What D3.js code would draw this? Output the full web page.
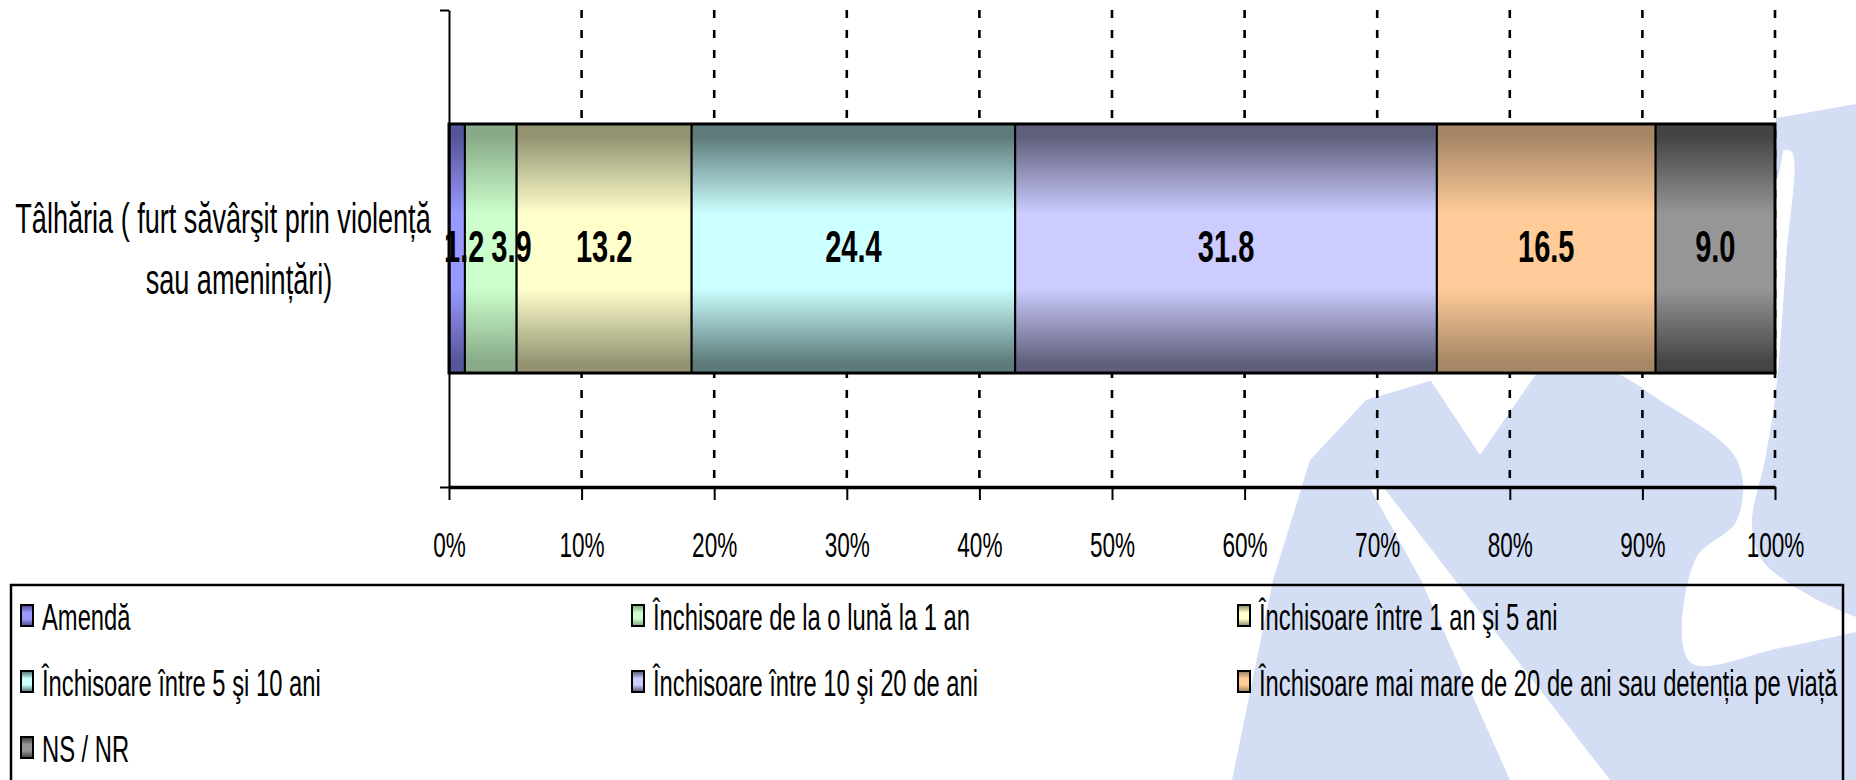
<!DOCTYPE html>
<html><head><meta charset="utf-8">
<script src="https://cdn.jsdelivr.net/npm/d3@7"></script>
<style>body{margin:0;background:#fff;} svg{display:block;}</style>
</head><body>
<svg id="chart" width="1856" height="780"></svg>
<script>
// ---- data ----
const categories = ["Tâlhăria ( furt săvârşit prin violență sau amenințări)"];
const categoryLines = ["Tâlhăria ( furt săvârşit prin violență", "sau amenințări)"];
const seriesNames = [
  "Amendă",
  "Închisoare de la o lună la 1 an",
  "Închisoare între 1 an şi 5 ani",
  "Închisoare între 5 şi 10 ani",
  "Închisoare între 10 şi 20 de ani",
  "Închisoare mai mare de 20 de ani sau detenția pe viață",
  "NS / NR"
];
const seriesValues = [1.2, 3.9, 13.2, 24.4, 31.8, 16.5, 9.0];
const tickValues = [0, 10, 20, 30, 40, 50, 60, 70, 80, 90, 100];
const tickLabels = ["0%", "10%", "20%", "30%", "40%", "50%", "60%", "70%", "80%", "90%", "100%"];

// ---- styles ----
const lightColors = ["#9999FF", "#CCFFCC", "#FFFFCC", "#CCFFFF", "#CCCCFF", "#FFCC99", "#969696"];
const darkColors  = ["#555599", "#88AA88", "#949473", "#5E7B7B", "#5F5F7C", "#A68666", "#444444"];
const SX = 0.645;               // horizontal condensation of all text
const FONT = "'Liberation Sans', Arial, sans-serif";
const logoColor = "#D3DEF5";

const svg = d3.select("#chart");
const plot = {left: 449, right: 1775, top: 10, bottom: 487};

const x = d3.scaleLinear().domain([0, 100]).range([plot.left, plot.right]);
const y = d3.scaleBand().domain(categories).range([plot.top, plot.bottom]).padding(0.314);

// ---- gradients ----
const defs = svg.append("defs");
lightColors.forEach((c, i) => {
  const g = defs.append("linearGradient").attr("id", "g" + i)
    .attr("x1", 0).attr("y1", 0).attr("x2", 0).attr("y2", 1);
  [[0, darkColors[i]], [0.05, darkColors[i]], [0.36, c], [0.66, c], [0.96, darkColors[i]], [1, darkColors[i]]]
    .forEach(([o, col]) => g.append("stop").attr("offset", o).attr("stop-color", col));
});

// ---- background logo (decorative watermark) ----
const logo = svg.append("g");
const line = d3.line().curve(d3.curveCatmullRom.alpha(0.5));
const logoBlue = [[1232,780],[1273,580],[1310,460],[1366,400],[1443,377],[1560,330],[1700,200],[1776,140],[1776,118],[1856,104],[1856,780]];
logo.append("path").attr("d", d3.line()(logoBlue) + "Z").attr("fill", logoColor);
const whiteV = [[1404,340],[1560,340],[1525,390],[1480,455],[1437,390]];
logo.append("path").attr("d", d3.line()(whiteV) + "Z").attr("fill", "#fff");
const whiteStripe = [[1370,488],[1384,488],[1455,580],[1610,780],[1510,780],[1421,580]];
logo.append("path").attr("d", d3.line()(whiteStripe) + "Z").attr("fill", "#fff");
const whiteCurveR = [[1783,150],[1792,152],[1786,260],[1776,390],[1765,460],[1752,523],[1762,560],[1812,597],[1856,617]];
const whiteCurveL = [[1856,632],[1780,648],[1690,662],[1695,560],[1737,520],[1737,460],[1645,390],[1579,340],[1700,250],[1772,190],[1783,150]];
logo.append("path").attr("d", line(whiteCurveR) + line(whiteCurveL).replace("M", "L") + "Z").attr("fill", "#fff");

// ---- gridlines ----
svg.append("g").selectAll("line").data(tickValues.slice(1)).join("line")
  .attr("x1", d => x(d)).attr("x2", d => x(d))
  .attr("y1", plot.top).attr("y2", plot.bottom)
  .attr("stroke", "#000").attr("stroke-width", 2.6)
  .attr("stroke-dasharray", "8,12");

// ---- stacked bar ----
const ends = d3.cumsum(seriesValues);
const segs = seriesValues.map((v, i) => ({v, i, x0: ends[i] - v, x1: ends[i]}));
const cat = categories[0];
const bars = svg.append("g");
bars.selectAll("rect").data(segs).join("rect")
  .attr("x", d => x(d.x0)).attr("width", d => x(d.x1) - x(d.x0))
  .attr("y", y(cat)).attr("height", y.bandwidth())
  .attr("fill", d => `url(#g${d.i})`)
  .attr("stroke", "#000").attr("stroke-width", 2);
bars.append("rect")
  .attr("x", x(0)).attr("width", x(100) - x(0))
  .attr("y", y(cat)).attr("height", y.bandwidth())
  .attr("fill", "none").attr("stroke", "#000").attr("stroke-width", 3);

// data labels (pushed right when they would collide)
const labelSize = 45;
const labels = svg.append("g").selectAll("text").data(segs).join("text")
  .attr("text-anchor", "middle")
  .attr("font-family", FONT).attr("font-weight", "bold").attr("font-size", labelSize)
  .attr("fill", "#000")
  .text(d => d.v.toFixed(1));
let prevRight = plot.left - 12;
labels.each(function(d) {
  const w = this.getComputedTextLength() * SX;
  let cx = (x(d.x0) + x(d.x1)) / 2;
  if (cx - w / 2 < prevRight + 7) cx = prevRight + 7 + w / 2;
  prevRight = cx + w / 2;
  d3.select(this).attr("transform", `translate(${cx},${y(cat) + y.bandwidth() / 2 + 13}) scale(${SX},1)`);
});

// ---- axes ----
const xAxis = svg.append("g").attr("transform", `translate(0,${plot.bottom})`)
  .call(d3.axisBottom(x).tickValues(tickValues).tickFormat((d, i) => tickLabels[i]).tickSize(13).tickSizeOuter(0));
xAxis.select(".domain").attr("stroke", "#000").attr("stroke-width", 3.5);
xAxis.selectAll(".tick line").attr("stroke", "#000").attr("stroke-width", 2);
xAxis.selectAll(".tick text")
  .attr("y", null).attr("dy", null)
  .attr("transform", `translate(0,70) scale(${SX},1)`)
  .attr("font-family", FONT).attr("font-size", 35).attr("fill", "#000");

// category axis: ticks at band edges
const yEdge = d3.scaleLinear().domain([0, 1]).range([plot.bottom, plot.top]);
const yAxis = svg.append("g").attr("transform", `translate(${plot.left},0)`)
  .call(d3.axisLeft(yEdge).tickValues([0, 1]).tickFormat("").tickSize(9).tickSizeOuter(0));
yAxis.select(".domain").attr("stroke", "#000").attr("stroke-width", 2);
yAxis.selectAll(".tick line").attr("stroke", "#000").attr("stroke-width", 2);

// category label (two lines)
const catCenter = y(cat) + y.bandwidth() / 2;
const lineCx = [223, 239];
svg.append("g").selectAll("text").data(categoryLines).join("text")
  .attr("transform", (d, i) => `translate(${lineCx[i]},${catCenter - 16 + i * 61}) scale(${SX},1)`)
  .attr("text-anchor", "middle")
  .attr("font-family", FONT).attr("font-size", 42).attr("fill", "#000")
  .text(d => d);

// ---- legend ----
const legend = svg.append("g");
legend.append("rect").attr("x", 11).attr("y", 585).attr("width", 1832).attr("height", 260)
  .attr("fill", "none").attr("stroke", "#000").attr("stroke-width", 2.5);
const colX = [21, 632, 1238];
const items = legend.selectAll("g.item").data(seriesNames).join("g").attr("class", "item")
  .attr("transform", (d, i) => `translate(${colX[i % 3]},${630 + Math.floor(i / 3) * 66})`);
items.append("rect").attr("x", 0).attr("y", -25).attr("width", 12).attr("height", 21)
  .attr("fill", (d, i) => `url(#g${i})`).attr("stroke", "#000").attr("stroke-width", 2);
items.append("text").attr("transform", `translate(21,0) scale(0.66,1)`)
  .attr("font-family", FONT).attr("font-size", 36).attr("fill", "#000")
  .text(d => d);
</script>
</body></html>
